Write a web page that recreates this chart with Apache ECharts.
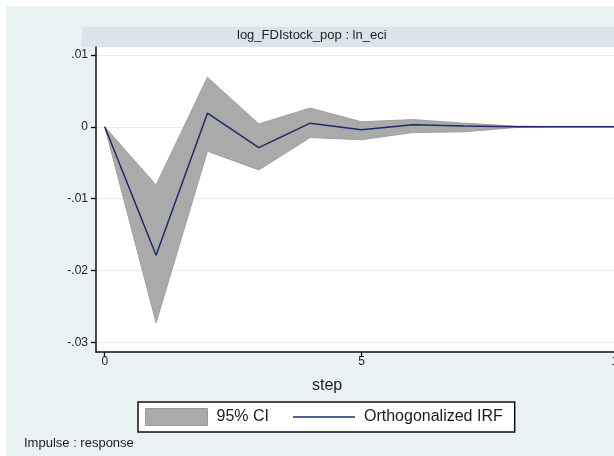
<!DOCTYPE html>
<html>
<head>
<meta charset="utf-8">
<title>IRF: log_FDIstock_pop : ln_eci</title>
<script src="https://cdn.jsdelivr.net/npm/echarts@6/dist/echarts.min.js"></script>
<style>
  html, body { margin: 0; padding: 0; background: #ffffff; }
  #chart { width: 614px; height: 456px; }
</style>
</head>
<body>
<div id="chart"></div>
<script>
// Impulse-response of ln_eci to a log_FDIstock_pop shock
var steps = [0, 1, 2, 3, 4, 5, 6, 7, 8, 9, 10];
var irf   = [0, -0.0179, 0.0019, -0.0029, 0.0005, -0.0004, 0.0003, 0.0001, 0.0000, 0.0000, 0.0000];
var ciLow = [0, -0.0273, -0.0034, -0.0060, -0.0015, -0.0018, -0.0008, -0.0007, -0.0001, 0.0000, 0.0000];
var ciUp  = [0, -0.0081, 0.0069, 0.0004, 0.0026, 0.0007, 0.0010, 0.0005, 0.0001, 0.0000, 0.0000];

var yTicks = [-0.03, -0.02, -0.01, 0, 0.01];
var yTickLabels = ['-.03', '-.02', '-.01', '0', '.01'];
var xTicks = [0, 5, 10];

var panelTitle = 'log_FDIstock_pop : ln_eci';
var xTitle = 'step';
var noteText = 'Impulse : response';
var bandName = '95% CI';
var lineName = 'Orthogonalized IRF';

var FONT = '"Liberation Sans", Arial, sans-serif';
var INK = '#1c1c1c';
var NAVY = '#1b2a6b';

var chart = echarts.init(document.getElementById('chart'), null, { renderer: 'canvas' });

var bandData = steps.map(function (s, i) { return [s, ciLow[i], ciUp[i]]; });
var lineData = steps.map(function (s, i) { return [s, irf[i]]; });

// one filled polygon: upper bound left-to-right, then lower bound back
function renderBand(params, api) {
  if (params.dataIndex !== 0) return null;
  var pts = [];
  for (var i = 0; i < steps.length; i++) pts.push(api.coord([steps[i], ciUp[i]]));
  for (var j = steps.length - 1; j >= 0; j--) pts.push(api.coord([steps[j], ciLow[j]]));
  return {
    type: 'polygon',
    shape: { points: pts },
    style: { fill: '#aaaaaa', stroke: '#a0a0a0', lineWidth: 1 }
  };
}

var option = {
  backgroundColor: '#ffffff',
  animation: false,
  graphic: [
    { type: 'rect', z: -10, shape: { x: 6, y: 6, width: 620, height: 460 }, style: { fill: '#e9f1f3' } },
    { type: 'rect', z: -9, shape: { x: 82, y: 27, width: 560, height: 20 }, style: { fill: '#d8e5ea' } },
    { type: 'text', z: 5, left: 237, top: 29,
      style: { text: panelTitle, font: '13px ' + FONT, fill: INK } },
    { type: 'text', z: 5, left: 312, top: 378,
      style: { text: xTitle, font: '16px ' + FONT, fill: INK } },
    { type: 'text', z: 5, left: 24, top: 437,
      style: { text: noteText, font: '13px ' + FONT, fill: INK } }
  ],
  grid: {
    left: 96, top: 47, width: 531, height: 305,
    outerBoundsMode: 'none',
    containLabel: false,
    show: true, backgroundColor: '#ffffff', borderWidth: 0
  },
  legend: {
    left: 138, top: 402,
    backgroundColor: '#ffffff',
    borderColor: '#111111', borderWidth: 1.5,
    padding: [6, 12, 6, 7],
    itemWidth: 62, itemHeight: 17, itemGap: 24,
    textStyle: { fontFamily: FONT, fontSize: 16, color: INK, padding: [0, 0, 0, 4] },
    data: [
      { name: bandName, icon: 'rect', itemStyle: { color: '#aaaaaa', borderColor: '#999999', borderWidth: 1 } },
      { name: lineName, icon: 'path://M0,0 L62,0 L62,1.5 L0,1.5 Z', itemStyle: { color: NAVY, borderWidth: 0 } }
    ]
  },
  xAxis: {
    type: 'value', min: -0.17, max: 10.17,
    axisLine: { show: true, onZero: false, lineStyle: { color: '#111111', width: 1.5 } },
    axisTick: { show: true, length: 5, customValues: xTicks, lineStyle: { color: '#111111', width: 1.3 } },
    axisLabel: { customValues: xTicks, margin: 4, fontFamily: FONT, fontSize: 12, color: INK },
    splitLine: { show: false }
  },
  yAxis: {
    type: 'value', min: -0.03136, max: 0.01111,
    axisLine: { show: true, onZero: false, lineStyle: { color: '#111111', width: 1.5 } },
    axisTick: { show: true, length: 5, customValues: yTicks, lineStyle: { color: '#111111', width: 1.3 } },
    axisLabel: {
      customValues: yTicks, margin: 8, fontFamily: FONT, fontSize: 12, color: INK,
      formatter: function (v) {
        var k = yTicks.findIndex(function (t) { return Math.abs(t - v) < 1e-9; });
        return k >= 0 ? yTickLabels[k] : '';
      }
    },
    splitLine: { show: true, lineStyle: { color: '#e3edf1', width: 1 } }
  },
  series: [
    {
      name: bandName, type: 'custom', z: 2,
      itemStyle: { color: '#aaaaaa' },
      renderItem: renderBand,
      data: bandData,
      encode: { x: 0, y: [1, 2] }
    },
    {
      name: lineName, type: 'line', z: 3,
      symbol: 'none', showSymbol: false,
      itemStyle: { color: NAVY },
      lineStyle: { color: NAVY, width: 1.5 },
      data: lineData
    }
  ]
};

chart.setOption(option);
</script>
</body>
</html>
